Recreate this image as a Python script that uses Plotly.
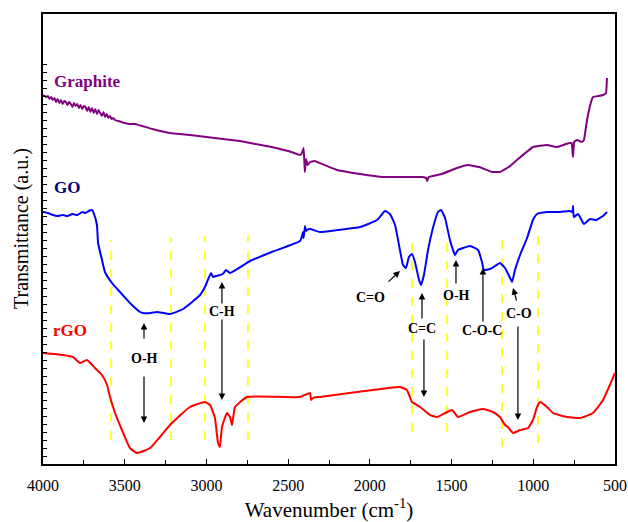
import plotly.graph_objects as go

# FTIR spectra (wavenumber in cm^-1, transmittance in arbitrary units, offset per sample)
graphite_wn = [4000, 3990, 3980, 3970, 3960, 3950, 3940, 3930, 3920, 3910, 3900, 3890, 3880, 3870,
               3860, 3850, 3840, 3830, 3820, 3810, 3800, 3790, 3780, 3770, 3760, 3750, 3740, 3730,
               3720, 3710, 3700, 3690, 3680, 3670, 3660, 3650, 3640, 3630, 3620, 3610, 3600, 3590,
               3580, 3570, 3560, 3540, 3520, 3500, 3470, 3437, 3330, 3223, 3100, 3000, 2900, 2795,
               2700, 2600, 2500, 2427, 2415, 2405, 2398, 2390, 2380, 2366, 2340, 2200, 2060, 1920,
               1800, 1680, 1655, 1650, 1640, 1560, 1467, 1400, 1330, 1250, 1204, 1150, 1100, 1002,
               916, 855, 800, 775, 765, 757, 750, 733, 702, 690, 671, 650, 635, 600, 573, 555, 549]
graphite_t = [369, 368, 367, 368, 365, 367, 364, 366, 362, 365, 361, 364, 360, 363,
              362, 359, 362, 360, 357, 361, 358, 360, 356, 359, 355, 358, 357, 353,
              357, 352, 356, 351, 355, 350, 354, 351, 348, 352, 347, 350, 346, 348,
              345, 346, 344, 343, 342, 341, 340, 340, 335, 331, 329, 327, 325, 323,
              320, 317, 313, 309, 311, 316, 292, 305, 299, 302, 303, 294, 290, 287,
              287, 287, 286, 283, 287, 290, 296, 299, 297, 292, 292, 297, 304, 317,
              319, 317, 320, 321, 321, 307, 322, 324, 322, 324, 344, 360, 367, 368, 369, 371, 386]

go_wn = [4000, 3970, 3940, 3910, 3880, 3850, 3820, 3790, 3760, 3740, 3720, 3700, 3690, 3670,
         3663, 3639, 3621, 3578, 3529, 3468, 3406, 3388, 3340, 3302, 3223, 3143, 3039, 3009,
         2972, 2960, 2941, 2900, 2880, 2856, 2733, 2600, 2427, 2415, 2409, 2405, 2397, 2390,
         2385, 2366, 2305, 2200, 2060, 1956, 1907, 1877, 1846, 1816, 1797, 1779, 1761, 1742,
         1724, 1699, 1687, 1669, 1644, 1614, 1583, 1565, 1540, 1510, 1491, 1479, 1461, 1430,
         1387, 1338, 1314, 1302, 1265, 1234, 1204, 1173, 1142, 1130, 1112, 1081, 1038, 1002,
         977, 916, 837, 775, 760, 757, 752, 726, 690, 653, 616, 573, 549]
go_t = [252, 251, 249, 248, 249, 248, 250, 249, 252, 251, 253, 254, 251, 239,
        221, 204, 192, 181, 172, 161, 152, 151, 151, 152, 150, 155, 169, 177,
        191, 187, 188, 190, 194, 191, 203, 212, 223, 228, 232, 226, 238, 233,
        234, 235, 232, 234, 237, 244, 253, 250, 239, 214, 199, 196, 207, 210,
        202, 184, 179, 189, 214, 236, 252, 254, 246, 224, 214, 209, 214, 216,
        218, 214, 202, 194, 195, 198, 201, 196, 186, 182, 194, 209, 226, 244,
        250, 252, 252, 253, 252, 258, 247, 250, 240, 245, 244, 248, 252]

rgo_wn = [4000, 3878, 3816, 3774, 3731, 3682, 3639, 3608, 3590, 3559, 3517, 3468, 3425, 3345,
          3223, 3101, 3009, 2978, 2948, 2929, 2917, 2905, 2874, 2856, 2843, 2825, 2752, 2427,
          2366, 2360, 2348, 2323, 2305, 1816, 1773, 1742, 1693, 1632, 1589, 1528, 1497, 1461,
          1387, 1308, 1247, 1204, 1173, 1155, 1124, 1081, 1032, 1002, 977, 959, 916, 879,
          794, 714, 635, 573, 500]
rgo_t = [111, 109, 107, 101, 104, 96, 89, 79, 67, 51, 34, 16, 11, 16,
         39, 57, 62, 59, 46, 21, 17, 37, 51, 47, 39, 57, 67, 67,
         71, 64, 66, 67, 67, 77, 74, 62, 57, 49, 47, 52, 54, 47,
         52, 55, 52, 47, 39, 37, 31, 34, 36, 44, 57, 62, 57, 51,
         47, 46, 51, 64, 91]

# Band positions marked with dashed guides
band_wn = [3584, 3217, 3009, 2746, 1742, 1528, 1191, 971]
band_top = [224, 226, 228, 229, 227, 229, 231, 228]
band_bottom = [24, 24, 24, 24, 32, 32, 17, 21]

x_ticks = [4000, 3500, 3000, 2500, 2000, 1500, 1000, 500]

SERIF = "Times New Roman, Liberation Serif, DejaVu Serif, serif"

fig = go.Figure()
for wn, t, color, smooth in [(graphite_wn, graphite_t, "#800080", 0.2),
                             (go_wn, go_t, "#0000FF", 0.4),
                             (rgo_wn, rgo_t, "#FF0000", 0.4)]:
    fig.add_trace(go.Scatter(x=wn, y=t, mode="lines",
                             line=dict(color=color, width=2, shape="spline", smoothing=smooth),
                             showlegend=False))

for wn, top, bot in zip(band_wn, band_top, band_bottom):
    fig.add_shape(type="line", xref="x", yref="y", x0=wn, x1=wn, y0=bot, y1=top,
                  line=dict(color="#FFFF00", width=1.6, dash="dash"), layer="below")

annotations = []

# Sample names
for text, x, y, color in [("Graphite", 3945, 383, "#800080"),
                          ("GO", 3945, 277, "#000080"),
                          ("rGO", 3950, 134, "#FF0000")]:
    annotations.append(dict(x=x, y=y, xref="x", yref="y", text=f"<b>{text}</b>",
                            showarrow=False, xanchor="left", yanchor="middle",
                            font=dict(family=SERIF, size=17, color=color)))

# Band labels
for text, x, y in [("O-H", 3382, 106), ("C-H", 2905, 153), ("C=O", 1999, 167),
                   ("C=C", 1681, 136), ("O-H", 1467, 169), ("C-O-C", 1314, 134),
                   ("C-O", 1087, 151)]:
    annotations.append(dict(x=x, y=y, xref="x", yref="y", text=f"<b>{text}</b>",
                            showarrow=False, font=dict(family=SERIF, size=14, color="black")))

# Arrows: (tail x, tail y, head x, head y)
for tx, ty, hx, hy in [(3382, 124, 3382, 141), (3382, 89, 3382, 41),
                       (2905, 159, 2905, 182), (2905, 146, 2905, 64),
                       (1895, 181, 1816, 193),
                       (1681, 144, 1681, 171), (1669, 126, 1669, 67),
                       (1473, 179, 1473, 204),
                       (1308, 141, 1308, 196),
                       (1100, 162, 1124, 176), (1094, 139, 1094, 44)]:
    annotations.append(dict(x=hx, y=hy, ax=tx, ay=ty, xref="x", yref="y",
                            axref="x", ayref="y", text="", showarrow=True,
                            arrowhead=2, arrowsize=1.1, arrowwidth=1.2, arrowcolor="black"))

# Vertical axis title
annotations.append(dict(x=-0.0385, y=236, xref="paper", yref="y", text="Transmittance (a.u.)",
                        textangle=-90, showarrow=False, xanchor="center", yanchor="middle",
                        font=dict(family=SERIF, size=20, color="black")))

fig.update_layout(
    width=628, height=522,
    margin=dict(l=43, r=13, t=14, b=58, autoexpand=False),
    paper_bgcolor="white", plot_bgcolor="white",
    annotations=annotations,
    font=dict(family=SERIF, color="black"),
    xaxis=dict(range=[4000, 500], tickvals=x_ticks, ticks="inside", ticklen=5,
               tickwidth=1.2, tickcolor="black", automargin=False, ticklabelstandoff=6,
               minor=dict(ticks="inside", ticklen=4, dtick=250, tick0=500, tickcolor="black"),
               showline=True, mirror=True, linecolor="black", linewidth=1.6,
               showgrid=False, zeroline=False,
               tickfont=dict(family=SERIF, size=16, color="black"),
               title=dict(text="Wavenumber (cm<sup>-1</sup>)", standoff=10,
                          font=dict(family=SERIF, size=21, color="black"))),
    yaxis=dict(range=[0, 450], showticklabels=False, ticks="inside", ticklen=4,
               tickvals=list(range(0, 405, 8)), tickcolor="black", automargin=False,
               showline=True, mirror=True, linecolor="black", linewidth=1.6,
               showgrid=False, zeroline=False),
)

fig.write_html("out.html")
